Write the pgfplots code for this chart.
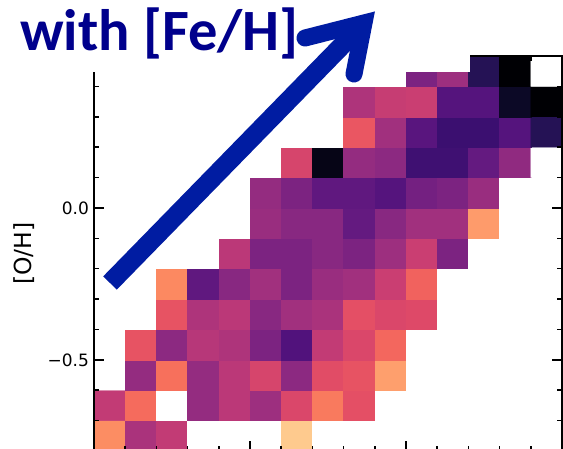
\documentclass[border=0pt]{standalone}
\usepackage{pgfplots}
\pgfplotsset{compat=1.18}
\usepackage{fontspec}
\setmainfont{DejaVu Sans}
\newfontfamily\annfont{Carlito}
\definecolor{txtblue}{RGB}{0,0,140}
\definecolor{arrblue}{RGB}{0,28,162}
\pgfplotsset{colormap={magmaw}{
rgb255(0cm)=(0,0,4) rgb255(0.5cm)=(10,8,34) rgb255(1cm)=(20,14,54) rgb255(1.5cm)=(37,18,85)
rgb255(2cm)=(59,15,112) rgb255(2.5cm)=(81,18,124) rgb255(3cm)=(100,26,128) rgb255(3.5cm)=(120,34,129)
rgb255(4cm)=(140,41,129) rgb255(4.5cm)=(161,48,126) rgb255(5cm)=(183,55,121) rgb255(5.5cm)=(202,62,114)
rgb255(6cm)=(222,73,104) rgb255(6.5cm)=(237,89,96) rgb255(7cm)=(247,112,92) rgb255(7.5cm)=(252,137,97)
rgb255(8cm)=(254,159,109) rgb255(8.5cm)=(254,183,126) rgb255(9cm)=(254,207,146) rgb255(9.5cm)=(253,231,169)
rgb255(10cm)=(252,253,191) rgb255(10.01cm)=(255,255,255) rgb255(12cm)=(255,255,255)}}
\begin{document}
\begin{tikzpicture}
\useasboundingbox (0pt,0pt) rectangle (563pt,-449pt);
\begin{axis}[
 at={(94pt,-451pt)}, anchor=south west,
 scale only axis, width=468pt, height=395pt,
 xmin=-1, xmax=0.5, ymin=-0.8, ymax=0.5,
 axis on top,
 axis line style={line width=1.5pt},
 tick align=inside,
 major tick length=10pt, minor tick length=5pt,
 tick style={black, line width=1.5pt},
 xtick={-1,-0.5,0,0.5}, xticklabels={},
 ytick={-0.5,0,0.5}, yticklabels={−0.5,0.0,},
 minor xtick={-0.9,-0.8,-0.7,-0.6,-0.4,-0.3,-0.2,-0.1,0.1,0.2,0.3,0.4},
 minor ytick={-0.7,-0.6,-0.4,-0.3,-0.2,-0.1,0.1,0.2,0.3,0.4},
 tick label style={font=\fontsize{17}{20}\selectfont},
 yticklabel style={xshift=-1.5pt},
 ylabel={[O/H]},
 ylabel style={font=\fontsize{23.5}{28}\selectfont, at={(axis description cs:-0.1496,0.5)}, anchor=center},
 colormap name=magmaw, point meta min=0, point meta max=1.2,
]
\addplot[matrix plot*, mesh/cols=15, point meta=explicit] table[meta=c, row sep=\\] {
x y c\\
-0.95 -0.75 0.76\\ -0.85 -0.75 0.47\\ -0.75 -0.75 0.53\\ -0.65 -0.75 1.2\\ -0.55 -0.75 1.2\\ -0.45 -0.75 1.2\\ -0.35 -0.75 0.89\\ -0.25 -0.75 1.2\\ -0.15 -0.75 1.2\\ -0.05 -0.75 1.2\\ 0.05 -0.75 1.2\\ 0.15 -0.75 1.2\\ 0.25 -0.75 1.2\\ 0.35 -0.75 1.2\\ 0.45 -0.75 1.2\\
-0.95 -0.65 0.53\\ -0.85 -0.65 0.69\\ -0.75 -0.65 1.2\\ -0.65 -0.65 0.42\\ -0.55 -0.65 0.51\\ -0.45 -0.65 0.44\\ -0.35 -0.65 0.59\\ -0.25 -0.65 0.72\\ -0.15 -0.65 0.62\\ -0.05 -0.65 1.2\\ 0.05 -0.65 1.2\\ 0.15 -0.65 1.2\\ 0.25 -0.65 1.2\\ 0.35 -0.65 1.2\\ 0.45 -0.65 1.2\\
-0.95 -0.55 1.2\\ -0.85 -0.55 0.42\\ -0.75 -0.55 0.70\\ -0.65 -0.55 0.42\\ -0.55 -0.55 0.51\\ -0.45 -0.55 0.58\\ -0.35 -0.55 0.40\\ -0.25 -0.55 0.61\\ -0.15 -0.55 0.63\\ -0.05 -0.55 0.80\\ 0.05 -0.55 1.2\\ 0.15 -0.55 1.2\\ 0.25 -0.55 1.2\\ 0.35 -0.55 1.2\\ 0.45 -0.55 1.2\\
-0.95 -0.45 1.2\\ -0.85 -0.45 0.63\\ -0.75 -0.45 0.40\\ -0.65 -0.45 0.50\\ -0.55 -0.45 0.48\\ -0.45 -0.45 0.36\\ -0.35 -0.45 0.25\\ -0.25 -0.45 0.53\\ -0.15 -0.45 0.59\\ -0.05 -0.45 0.68\\ 0.05 -0.45 1.2\\ 0.15 -0.45 1.2\\ 0.25 -0.45 1.2\\ 0.35 -0.45 1.2\\ 0.45 -0.45 1.2\\
-0.95 -0.35 1.2\\ -0.85 -0.35 1.2\\ -0.75 -0.35 0.63\\ -0.65 -0.35 0.48\\ -0.55 -0.35 0.51\\ -0.45 -0.35 0.39\\ -0.35 -0.35 0.45\\ -0.25 -0.35 0.47\\ -0.15 -0.35 0.62\\ -0.05 -0.35 0.59\\ 0.05 -0.35 0.60\\ 0.15 -0.35 1.2\\ 0.25 -0.35 1.2\\ 0.35 -0.35 1.2\\ 0.45 -0.35 1.2\\
-0.95 -0.25 1.2\\ -0.85 -0.25 1.2\\ -0.75 -0.25 0.75\\ -0.65 -0.25 0.29\\ -0.55 -0.25 0.39\\ -0.45 -0.25 0.45\\ -0.35 -0.25 0.36\\ -0.25 -0.25 0.43\\ -0.15 -0.25 0.45\\ -0.05 -0.25 0.55\\ 0.05 -0.25 0.67\\ 0.15 -0.25 1.2\\ 0.25 -0.25 1.2\\ 0.35 -0.25 1.2\\ 0.45 -0.25 1.2\\
-0.95 -0.15 1.2\\ -0.85 -0.15 1.2\\ -0.75 -0.15 1.2\\ -0.65 -0.15 1.2\\ -0.55 -0.15 0.51\\ -0.45 -0.15 0.36\\ -0.35 -0.15 0.36\\ -0.25 -0.15 0.39\\ -0.15 -0.15 0.36\\ -0.05 -0.15 0.44\\ 0.05 -0.15 0.55\\ 0.15 -0.15 0.36\\ 0.25 -0.15 1.2\\ 0.35 -0.15 1.2\\ 0.45 -0.15 1.2\\
-0.95 -0.05 1.2\\ -0.85 -0.05 1.2\\ -0.75 -0.05 1.2\\ -0.65 -0.05 1.2\\ -0.55 -0.05 1.2\\ -0.45 -0.05 0.43\\ -0.35 -0.05 0.39\\ -0.25 -0.05 0.39\\ -0.15 -0.05 0.30\\ -0.05 -0.05 0.39\\ 0.05 -0.05 0.45\\ 0.15 -0.05 0.45\\ 0.25 -0.05 0.79\\ 0.35 -0.05 1.2\\ 0.45 -0.05 1.2\\
-0.95 0.05 1.2\\ -0.85 0.05 1.2\\ -0.75 0.05 1.2\\ -0.65 0.05 1.2\\ -0.55 0.05 1.2\\ -0.45 0.05 0.42\\ -0.35 0.05 0.36\\ -0.25 0.05 0.29\\ -0.15 0.05 0.29\\ -0.05 0.05 0.26\\ 0.05 0.05 0.34\\ 0.15 0.05 0.36\\ 0.25 0.05 0.43\\ 0.35 0.05 1.2\\ 0.45 0.05 1.2\\
-0.95 0.15 1.2\\ -0.85 0.15 1.2\\ -0.75 0.15 1.2\\ -0.65 0.15 1.2\\ -0.55 0.15 1.2\\ -0.45 0.15 1.2\\ -0.35 0.15 0.58\\ -0.25 0.15 0.03\\ -0.15 0.15 0.42\\ -0.05 0.15 0.40\\ 0.05 0.15 0.21\\ 0.15 0.15 0.21\\ 0.25 0.15 0.30\\ 0.35 0.15 0.41\\ 0.45 0.15 1.2\\
-0.95 0.25 1.2\\ -0.85 0.25 1.2\\ -0.75 0.25 1.2\\ -0.65 0.25 1.2\\ -0.55 0.25 1.2\\ -0.45 0.25 1.2\\ -0.35 0.25 1.2\\ -0.25 0.25 1.2\\ -0.15 0.25 0.64\\ -0.05 0.25 0.45\\ 0.05 0.25 0.27\\ 0.15 0.25 0.20\\ 0.25 0.25 0.20\\ 0.35 0.25 0.26\\ 0.45 0.25 0.15\\
-0.95 0.35 1.2\\ -0.85 0.35 1.2\\ -0.75 0.35 1.2\\ -0.65 0.35 1.2\\ -0.55 0.35 1.2\\ -0.45 0.35 1.2\\ -0.35 0.35 1.2\\ -0.25 0.35 1.2\\ -0.15 0.35 0.48\\ -0.05 0.35 0.54\\ 0.05 0.35 0.55\\ 0.15 0.35 0.26\\ 0.25 0.35 0.26\\ 0.35 0.35 0.06\\ 0.45 0.35 0.0\\
-0.95 0.45 1.2\\ -0.85 0.45 1.2\\ -0.75 0.45 1.2\\ -0.65 0.45 1.2\\ -0.55 0.45 1.2\\ -0.45 0.45 1.2\\ -0.35 0.45 1.2\\ -0.25 0.45 1.2\\ -0.15 0.45 1.2\\ -0.05 0.45 1.2\\ 0.05 0.45 0.36\\ 0.15 0.45 0.44\\ 0.25 0.45 0.15\\ 0.35 0.45 0.0\\ 0.45 0.45 1.2\\
};
\end{axis}
\fill[white] (0pt,0pt) rectangle (470pt,-72.5pt);
\node[anchor=base west, text=txtblue, inner sep=0pt, font=\annfont\bfseries\fontsize{58.5}{64}\selectfont] at (20pt,-51pt) {with [Fe/H]};
\draw[arrblue, line width=19pt] (110pt,-283pt) -- (364pt,-23pt);
\draw[arrblue, line width=17pt, line cap=round, line join=miter] (305pt,-38pt) -- (364pt,-23pt) -- (354pt,-74pt);
\end{tikzpicture}
\end{document}
